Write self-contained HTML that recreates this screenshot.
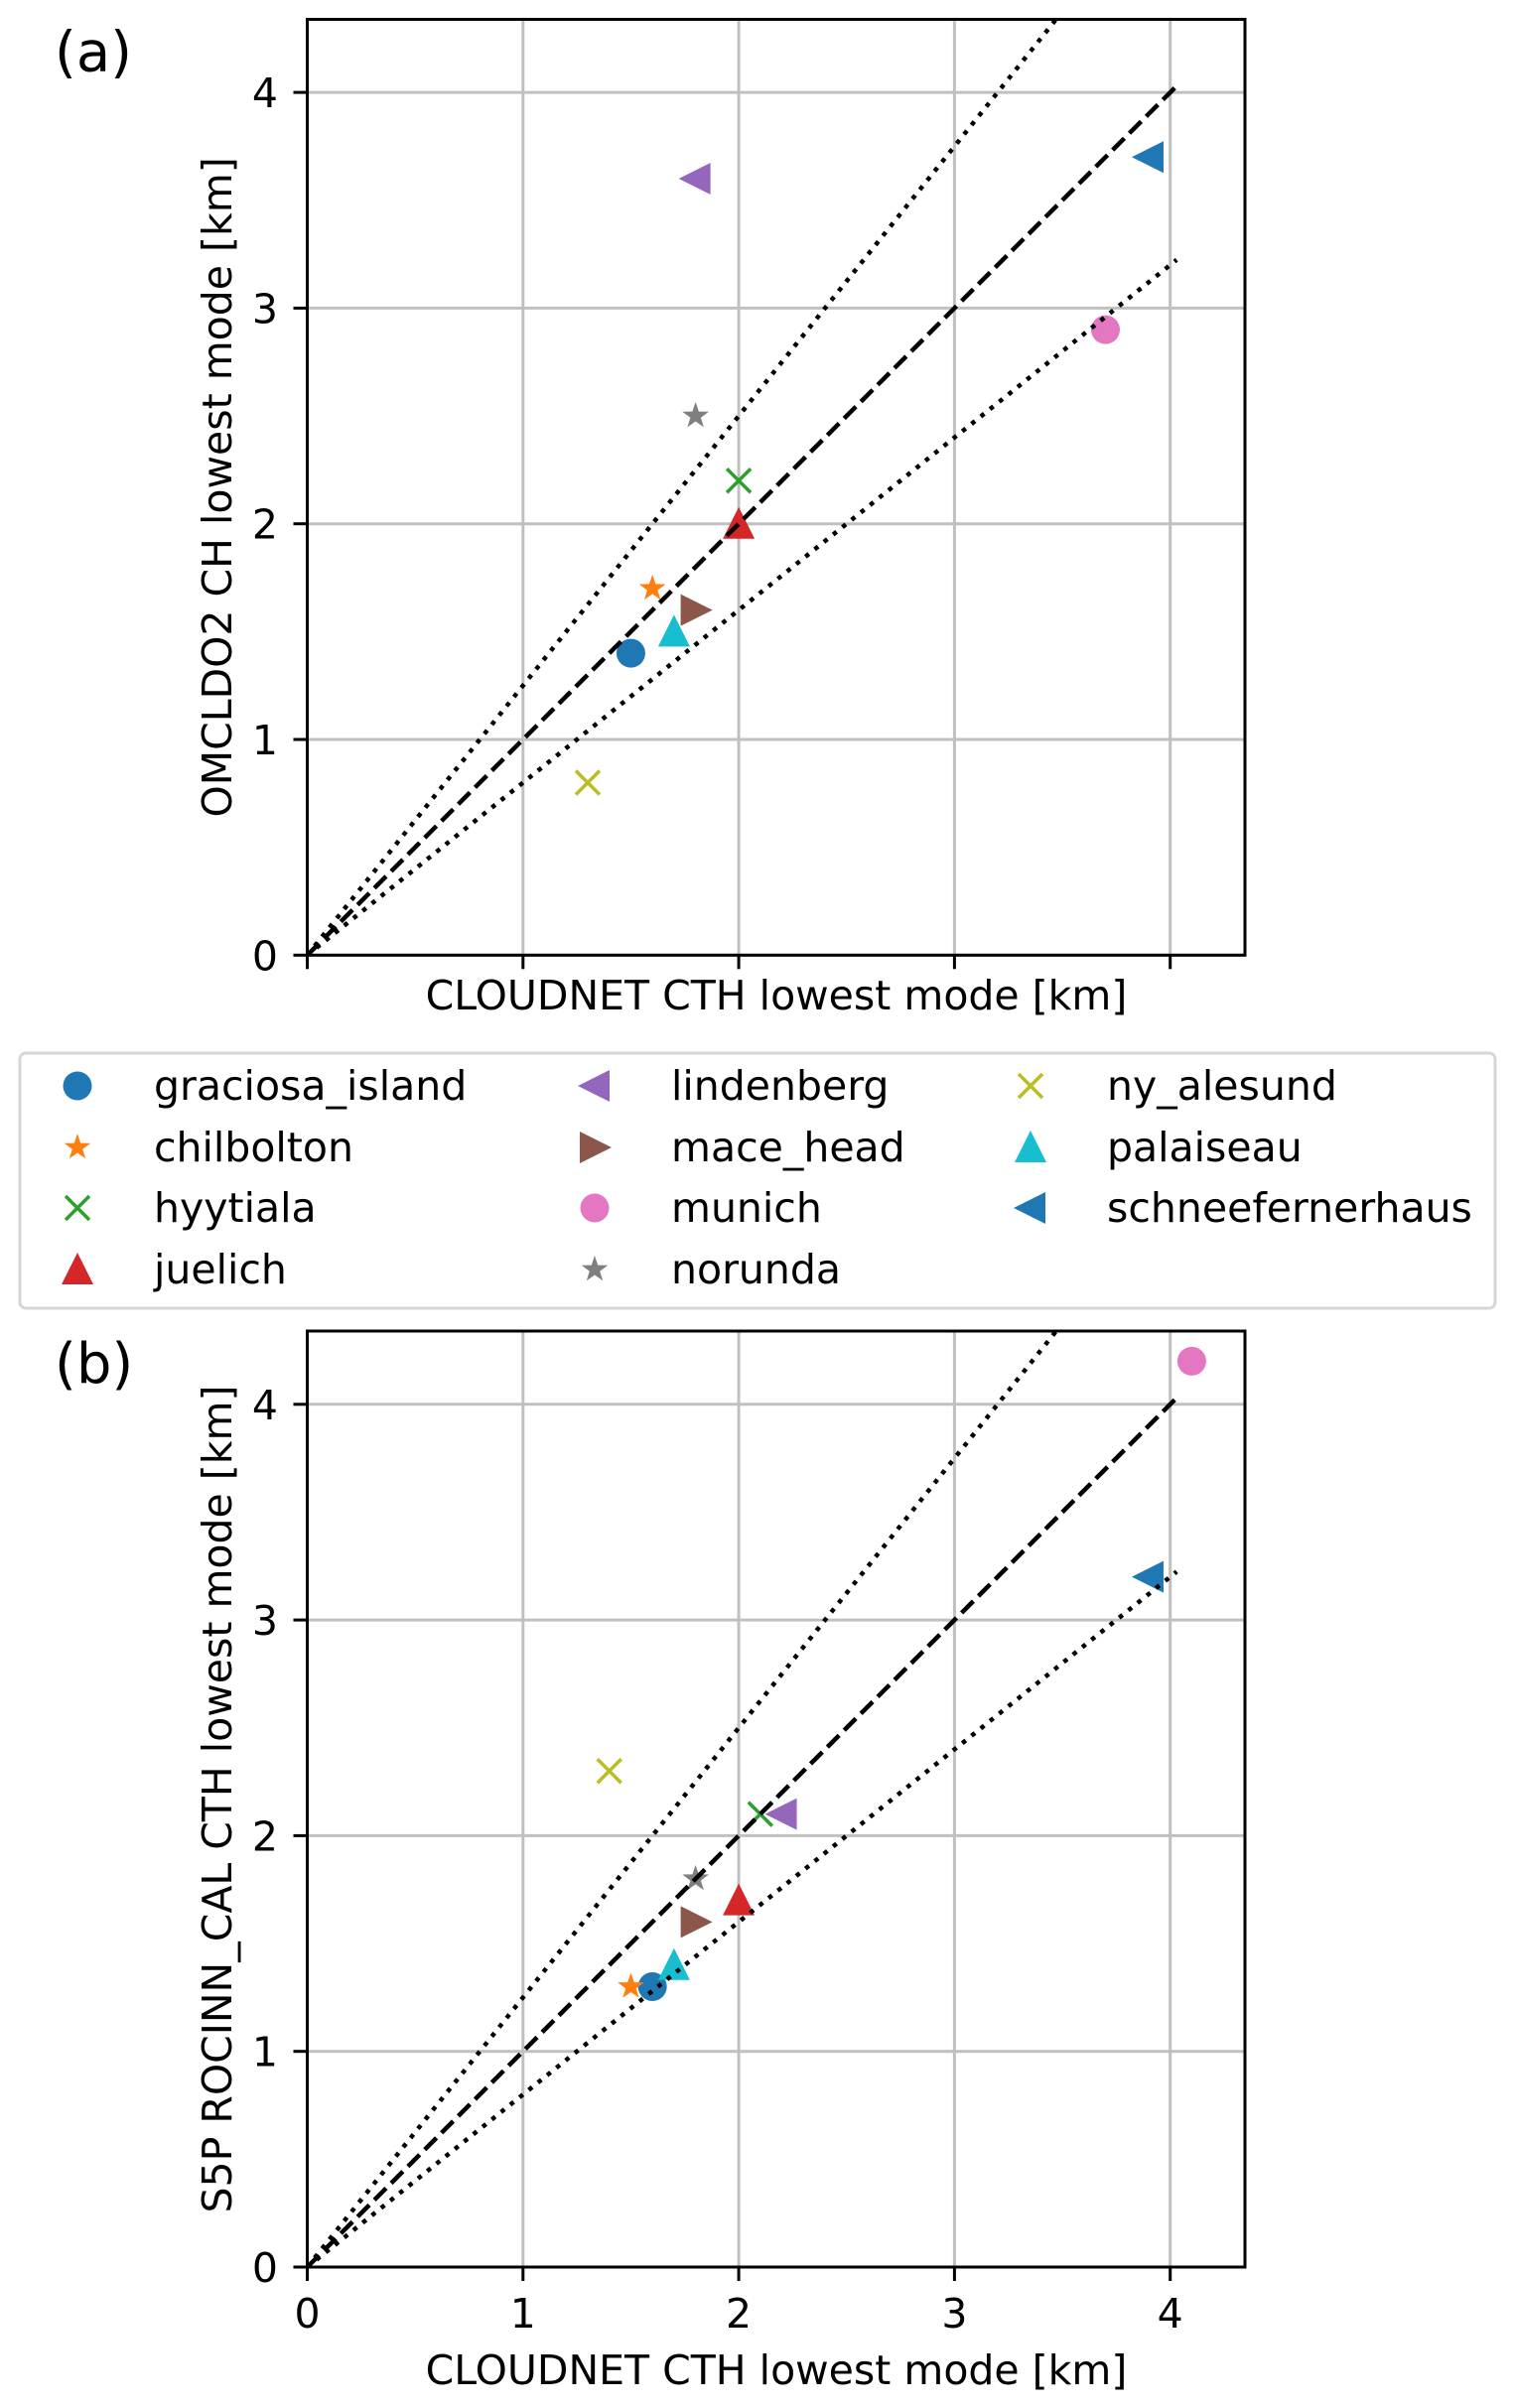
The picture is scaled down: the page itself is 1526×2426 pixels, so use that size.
<!DOCTYPE html>
<html><head><meta charset="utf-8">
<style>
html,body{margin:0;padding:0;background:#fff;}
svg{display:block;font-family:"DejaVu Sans","Liberation Sans",sans-serif;}
</style></head>
<body>
<svg id="fig" width="1526" height="2426" viewBox="0 0 1526 2426" xmlns="http://www.w3.org/2000/svg">
<rect width="1526" height="2426" fill="#fff"/>
<g id="panelA"></g>
<g id="panelB"></g>
<g id="legend"></g>
</svg>
<script>
const sites = ["graciosa_island","chilbolton","hyytiala","juelich","lindenberg","mace_head","munich","norunda","ny_alesund","palaiseau","schneefernerhaus"];
const colors = ["#1f77b4","#ff7f0e","#2ca02c","#d62728","#9467bd","#8c564b","#e377c2","#7f7f7f","#bcbd22","#17becf","#1f77b4"];
const markers = ["o","*","x","^","<",">","o","*","x","^","<"];
const cloudnetA = [1.5,1.6,2.0,2.0,1.8,1.8,3.7,1.8,1.3,1.7,3.9];
const omcldo2A = [1.4,1.7,2.2,2.0,3.6,1.6,2.9,2.5,0.8,1.5,3.7];
const cloudnetB = [1.6,1.5,2.1,2.0,2.2,1.8,4.1,1.8,1.4,1.7,3.9];
const s5pB = [1.3,1.3,2.1,1.7,2.1,1.6,4.2,1.8,2.3,1.4,3.2];
const ticks = [0,1,2,3,4];
const refSlopes = [1.25,1.0,0.8];

const NS="http://www.w3.org/2000/svg";
function mk(tag, attrs, parent){const e=document.createElementNS(NS,tag);for(const k in attrs)e.setAttribute(k,attrs[k]);parent.appendChild(e);return e;}

function drawMarker(g, m, cx, cy, color){
  let e;
  if(m==="o"){ e=mk("circle",{cx:cx,cy:cy,r:14.5,fill:color},g); }
  else if(m==="x"){ e=mk("path",{d:`M${cx-12},${cy-12}L${cx+12},${cy+12}M${cx-12},${cy+12}L${cx+12},${cy-12}`,stroke:color,"stroke-width":3.5,fill:"none"},g); }
  else if(m==="*"){
    let p=[];for(let i=0;i<10;i++){const r=i%2?5.5:14;const a=-Math.PI/2+i*Math.PI/5;p.push((cx+r*Math.cos(a)).toFixed(1)+","+(cy+r*Math.sin(a)).toFixed(1));}
    e=mk("polygon",{points:p.join(" "),fill:color},g);
  }
  else if(m==="^"){ e=mk("polygon",{points:`${cx},${cy-17} ${cx+16},${cy+15} ${cx-16},${cy+15}`,fill:color},g); }
  else if(m==="<"){ e=mk("polygon",{points:`${cx-17},${cy} ${cx+15},${cy-16} ${cx+15},${cy+16}`,fill:color},g); }
  else if(m===">"){ e=mk("polygon",{points:`${cx+17},${cy} ${cx-15},${cy-16} ${cx-15},${cy+16}`,fill:color},g); }
  return e;
}

function panel(g, top, bottom, xs, ys, label, ylab, showXTicks, xlabY){
  const left=309.5, right=1254, k=217.3;
  const X=v=>left+v*k, Y=v=>bottom-v*k;
  const clipId="clip"+label;
  const cp=mk("clipPath",{id:clipId},g); mk("rect",{x:left,y:top,width:right-left,height:bottom-top},cp);
  const grid=mk("g",{},g);
  
  
  ticks.forEach(t=>{
    mk("line",{x1:X(t),x2:X(t),y1:top,y2:bottom,stroke:"#c0c0c0","stroke-width":3},grid);
    mk("line",{x1:left,x2:right,y1:Y(t),y2:Y(t),stroke:"#c0c0c0","stroke-width":3},grid);
    mk("line",{x1:left-14,x2:left,y1:Y(t),y2:Y(t),stroke:"#000","stroke-width":3},g);
    const yt=mk("text",{x:280,y:Y(t)+15,"text-anchor":"end","font-size":41},g); yt.textContent=t;
    
    
    mk("line",{x1:X(t),x2:X(t),y1:bottom,y2:bottom+14,stroke:"#000","stroke-width":3},g);
    if(showXTicks){const xt=mk("text",{x:X(t),y:bottom+61,"text-anchor":"middle","font-size":41},g); xt.textContent=t;
      
      }
  });
  const pts=mk("g",{"clip-path":`url(#${clipId})`},g);
  
  
  sites.forEach((s,i)=>{
    const m=drawMarker(pts,markers[i],X(xs[i]),Y(ys[i]),colors[i]);
    
    
  });
  const lines=mk("g",{"clip-path":`url(#${clipId})`},g);
  refSlopes.forEach(sl=>{
    const dash= sl===1.0 ? "16.7,7.2" : "4.5,7.4";
    const l=mk("line",{x1:X(0),y1:Y(0),x2:X(4.03),y2:Y(4.03*sl),stroke:"#000","stroke-width":4.5,"stroke-dasharray":dash},lines);
    
    
  });
  mk("rect",{x:left,y:top,width:right-left,height:bottom-top,fill:"none",stroke:"#000","stroke-width":3},g);
  const pl=mk("text",{x:55,y:top+52,"font-size":56},g); pl.textContent="("+label+")";
  
  
  const cy=(top+bottom)/2;
  const yl=mk("text",{x:0,y:0,"text-anchor":"middle","font-size":41,transform:`translate(233,${cy}) rotate(-90)`},g); yl.textContent=ylab;
  
  
  const xl=mk("text",{x:782,y:xlabY,"text-anchor":"middle","font-size":41},g); xl.textContent="CLOUDNET CTH lowest mode [km]";
  
  
}
panel(document.getElementById("panelA"),19.5,962.3,cloudnetA,omcldo2A,"a","OMCLDO2 CH lowest mode [km]",false,1017);
panel(document.getElementById("panelB"),1341,2284,cloudnetB,s5pB,"b","S5P ROCINN_CAL CTH lowest mode [km]",true,2402);

const lg=document.getElementById("legend");
mk("rect",{x:20,y:1061,width:1486,height:257,rx:6,fill:"#fff",stroke:"#d6d6d6","stroke-width":3},lg);
const colMX=[78,599,1038], colTX=[155,676,1115], rowY=[1094,1156,1217,1279];
sites.forEach((s,i)=>{
  const c=Math.floor(i/4), r=i%4;
  const m=drawMarker(lg,markers[i],colMX[c],rowY[r],colors[i]);
  
  
  const t=mk("text",{x:colTX[c],y:rowY[r]+14,"font-size":41},lg); t.textContent=s;
  
  
});
</script>
</body></html>
